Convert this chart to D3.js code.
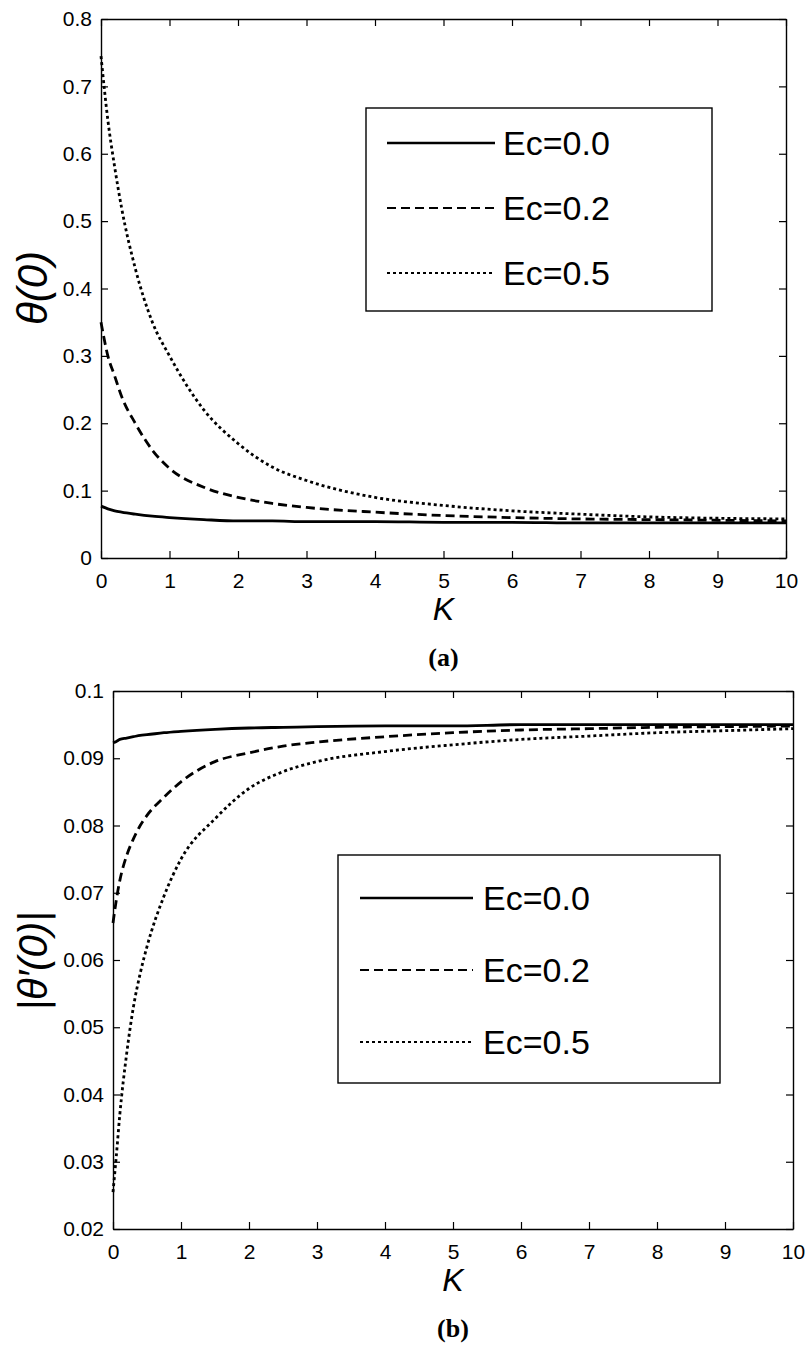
<!DOCTYPE html>
<html><head><meta charset="utf-8">
<script src="https://cdn.jsdelivr.net/npm/d3@7"></script>
<style>
body{margin:0;background:#fff;}
svg{display:block;}
</style></head>
<body><svg id="c" width="809" height="1347"></svg>
<script>
// ---- data ----
const seriesNames = ["Ec=0.0", "Ec=0.2", "Ec=0.5"];
const kA0 = [0,0.1,0.2,0.3,0.5,0.75,1,1.5,2,2.5,3,4,5,6,7,8,9,10];
const thetaEc00 = [0.077,0.073,0.070,0.068,0.065,0.062,0.060,0.057,0.055,0.055,0.054,0.054,0.053,0.053,0.052,0.052,0.052,0.052];
const thetaEc02 = [0.350,0.300,0.270,0.240,0.200,0.160,0.133,0.105,0.090,0.081,0.075,0.068,0.063,0.060,0.058,0.057,0.056,0.055];
const thetaEc05 = [0.745,0.650,0.580,0.520,0.430,0.350,0.300,0.220,0.170,0.135,0.115,0.090,0.078,0.070,0.065,0.061,0.059,0.058];
const kB = [0,0.05,0.1,0.2,0.3,0.4,0.5,0.75,1,1.5,2,2.5,3,4,5,6,7,8,9,10];
const gradEc00 = [0.0923,0.0925,0.0928,0.0930,0.0932,0.0934,0.0935,0.0938,0.0940,0.0943,0.0945,0.0946,0.0947,0.0948,0.0948,0.0950,0.0950,0.0950,0.0950,0.0950];
const gradEc02 = [0.0655,0.0690,0.0718,0.0755,0.0780,0.0800,0.0815,0.0842,0.0865,0.0895,0.0908,0.0918,0.0924,0.0932,0.0938,0.0942,0.0944,0.0946,0.0947,0.0948];
const gradEc05 = [0.0255,0.0310,0.0370,0.0460,0.0530,0.0580,0.0620,0.0695,0.0750,0.0810,0.0855,0.0880,0.0895,0.0910,0.0920,0.0928,0.0933,0.0938,0.0941,0.0944];
const xTicks = [0,1,2,3,4,5,6,7,8,9,10];
const yTicksA = [0,0.1,0.2,0.3,0.4,0.5,0.6,0.7,0.8];
const yTicksB = [0.02,0.03,0.04,0.05,0.06,0.07,0.08,0.09,0.1];

const SANS = "'Liberation Sans', Arial, sans-serif";
const SERIF = "'Liberation Serif', 'Times New Roman', serif";
const dashes = [null, "9,5", "3,3"];
const svg = d3.select("#c");

function panel(o){
  const x = d3.scaleLinear().domain([0,10]).range([o.left,o.right]);
  const y = d3.scaleLinear().domain(o.ydom).range([o.bottom,o.top]);
  const g = svg.append("g");
  const fmt = d => String(+d.toFixed(2));
  const ax = [
    [d3.axisBottom(x).tickValues(xTicks).tickFormat(fmt), o.bottom, "x", true],
    [d3.axisTop(x).tickValues(xTicks).tickFormat(""), o.top, "x", false],
    [d3.axisLeft(y).tickValues(o.yticks).tickFormat(fmt), o.left, "y", true],
    [d3.axisRight(y).tickValues(o.yticks).tickFormat(""), o.right, "y", false]
  ];
  ax.forEach(([a,pos,dir,lab])=>{
    a.tickSizeInner(-7).tickSizeOuter(0).tickPadding(lab?(dir==="x"?15:9):0);
    const gg = g.append("g").attr("transform", dir==="x"?`translate(0,${pos})`:`translate(${pos},0)`).call(a);
    gg.attr("font-family",null).attr("font-size",null);
    gg.select(".domain").attr("stroke","#000").attr("stroke-width",1.4);
    gg.selectAll(".tick line").attr("stroke","#000").attr("stroke-width",1.2);
    gg.selectAll(".tick text").style("font-size","21px").style("font-family",SANS).attr("fill","#000");
  });
  const line = d3.line().x(d=>x(d[0])).y(d=>y(d[1])).curve(d3.curveMonotoneX);
  o.series.forEach((s,i)=>{
    g.append("path").datum(o.xs.map((k,j)=>[k,s[j]]))
      .attr("d",line).attr("fill","none").attr("stroke","#000")
      .attr("stroke-width",2.8).attr("stroke-dasharray",dashes[i]);
  });
  const L = o.legend;
  g.append("rect").attr("x",L.x).attr("y",L.y).attr("width",L.w).attr("height",L.h)
    .attr("fill","#fff").attr("stroke","#000").attr("stroke-width",1.4);
  seriesNames.forEach((n,i)=>{
    const yy = L.row0 + i*L.gap;
    g.append("line").attr("x1",L.lx1).attr("x2",L.lx2).attr("y1",yy).attr("y2",yy)
      .attr("stroke","#000").attr("stroke-width", i===0?2.4:(i===1?2.2:2)).attr("stroke-dasharray",dashes[i]);
    g.append("text").attr("x",L.tx).attr("y",yy+12).style("font-size","34px").style("font-family",SANS).text(n);
  });
  g.append("text").attr("x",(o.left+o.right)/2).attr("y",o.bottom+62)
    .attr("text-anchor","middle").style("font-size","32px").style("font-style","italic").style("font-family",SANS).text("K");
  g.append("text").attr("transform",`translate(${o.ylx},${o.yly}) rotate(-90)`)
    .attr("text-anchor","middle").style("font-size",o.ylfs+"px").style("font-style","italic").style("font-family",SANS).text(o.ylabel);
  g.append("text").attr("x",(o.left+o.right)/2).attr("y",o.bottom+108)
    .attr("text-anchor","middle").style("font-size","26px").style("font-weight","bold")
    .style("font-family",SERIF).text(o.tag);
}

panel({left:101,right:786,top:19,bottom:558,ydom:[0,0.8],yticks:yTicksA,
  xs:kA0,series:[thetaEc00,thetaEc02,thetaEc05],
  legend:{x:366,y:108,w:346,h:203,row0:143,gap:65,lx1:387,lx2:495,tx:503},
  ylabel:"\u03B8(0)",ylx:47,yly:288,ylfs:42,tag:"(a)"});

panel({left:113,right:793,top:691,bottom:1229,ydom:[0.02,0.1],yticks:yTicksB,
  xs:kB,series:[gradEc00,gradEc02,gradEc05],
  legend:{x:338,y:855,w:382,h:228,row0:898,gap:72,lx1:360,lx2:473,tx:483},
  ylabel:"|\u03B8\u2032(0)|",ylx:47,yly:961,ylfs:40,tag:"(b)"});
</script></body></html>
